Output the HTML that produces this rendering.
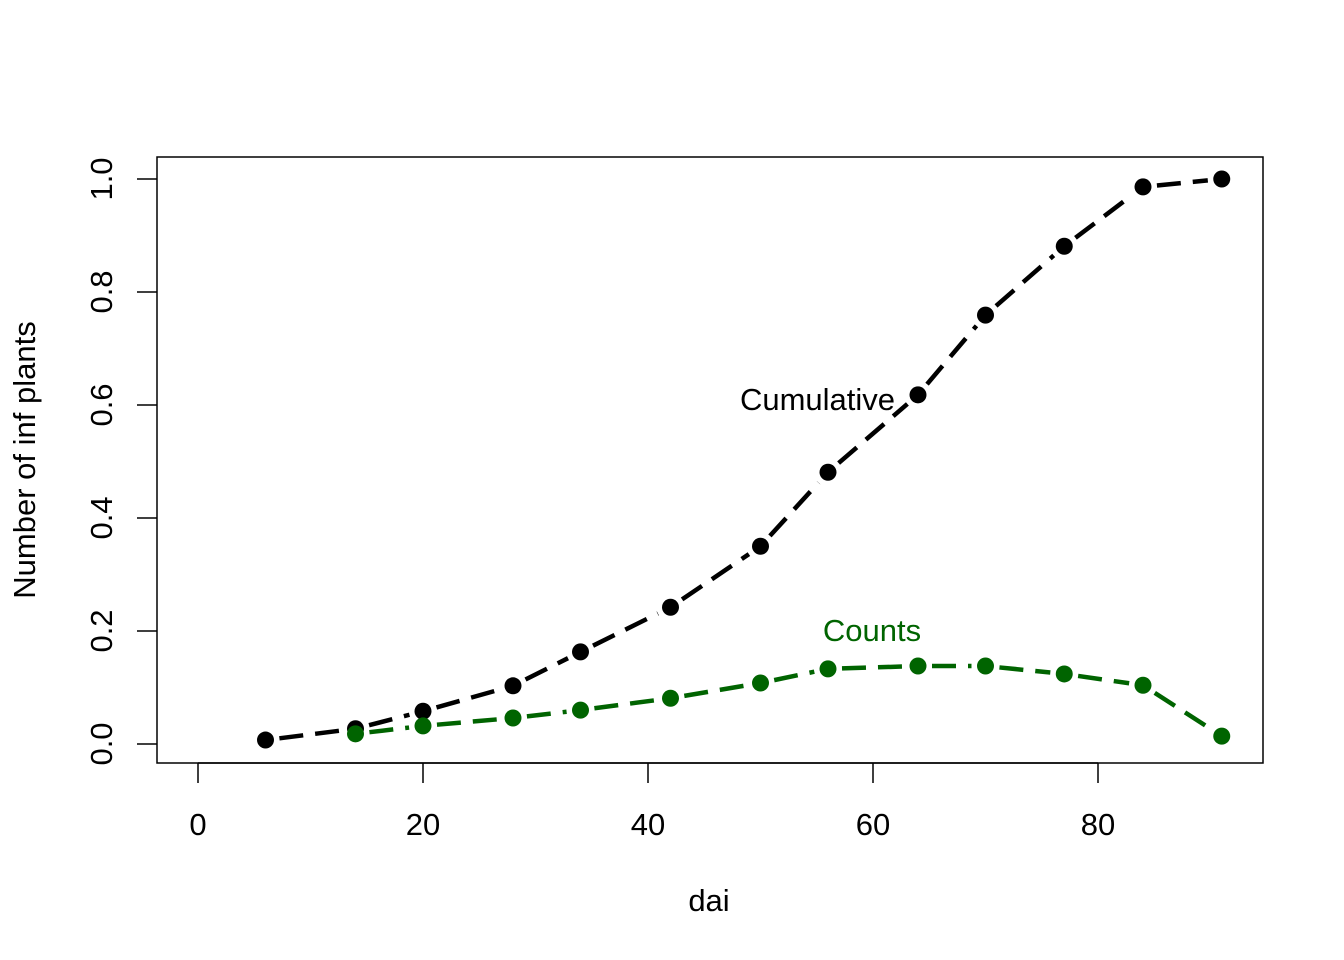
<!DOCTYPE html>
<html><head><meta charset="utf-8"><style>body{margin:0;background:#fff}svg{display:block}text{font-family:"Liberation Sans",Arial,sans-serif}</style></head>
<body>
<svg id="c" width="1344" height="960" xmlns="http://www.w3.org/2000/svg">
<rect x="157" y="157" width="1106" height="606" fill="none" stroke="#000" stroke-width="1.5"/>
<g id="ax"></g><g id="marks"></g>
<text x="709" y="911" font-size="31" text-anchor="middle">dai</text>
<text transform="translate(35,460) rotate(-90)" font-size="31" text-anchor="middle">Number of inf plants</text>
<text x="895" y="410" font-size="31" text-anchor="end">Cumulative</text>
<text x="872" y="641" font-size="31" text-anchor="middle" fill="#006400">Counts</text>
</svg>
<script>
const xTicks=[0,20,40,60,80];
const yTicks=["0.0","0.2","0.4","0.6","0.8","1.0"];
const cumX=[6,14,20,28,34,42,50,56,64,70,77,84,91];
const cumY=[0.007,0.027,0.058,0.103,0.163,0.242,0.35,0.481,0.618,0.759,0.881,0.986,1.0];
const cntX=[14,20,28,34,42,50,56,64,70,77,84,91];
const cntY=[0.018,0.032,0.046,0.060,0.081,0.108,0.133,0.138,0.138,0.124,0.104,0.014];
const NS="http://www.w3.org/2000/svg";
const sx=v=>198+v*11.25, sy=v=>744-v*565;
const ax=document.getElementById('ax'), mk=document.getElementById('marks');
function el(t,a,p){const e=document.createElementNS(NS,t);for(const k in a)e.setAttribute(k,a[k]);p.appendChild(e);return e;}
xTicks.forEach(v=>{
 const l=el('line',{x1:sx(v),x2:sx(v),y1:763,y2:783,stroke:'#000','stroke-width':1.5},ax);
 
 
 const t=el('text',{x:sx(v),y:835,'font-size':31,'text-anchor':'middle'},ax);t.textContent=v;
 
 
});
el('line',{x1:sx(0),x2:sx(80),y1:763,y2:763,stroke:'#000','stroke-width':1.5},ax);
yTicks.forEach(s=>{const v=parseFloat(s);
 const l=el('line',{x1:137,x2:157,y1:sy(v),y2:sy(v),stroke:'#000','stroke-width':1.5},ax);
 
 
 const t=el('text',{x:0,y:0,'font-size':31,'text-anchor':'middle',transform:`translate(112,${sy(v)}) rotate(-90)`},ax);t.textContent=s;
 
 
});
function series(xs,ys,col,name){
 for(let i=0;i<xs.length-1;i++){
  const x1=sx(xs[i]),y1=sy(ys[i]),x2=sx(xs[i+1]),y2=sy(ys[i+1]);
  const d=Math.hypot(x2-x1,y2-y1),g=14;if(d<2*g)continue;
  const ux=(x2-x1)/d,uy=(y2-y1)/d;
  const l=el('line',{x1:x1+ux*g,y1:y1+uy*g,x2:x2-ux*g,y2:y2-uy*g,stroke:col,'stroke-width':4.5,'stroke-dasharray':'24 12'},mk);
  
  
 }
 xs.forEach((x,i)=>{const c=el('circle',{cx:sx(x),cy:sy(ys[i]),r:8.5,fill:col},mk);
  
  });
}
series(cumX,cumY,'#000','cumulative');
series(cntX,cntY,'#006400','counts');
</script>
</body></html>
